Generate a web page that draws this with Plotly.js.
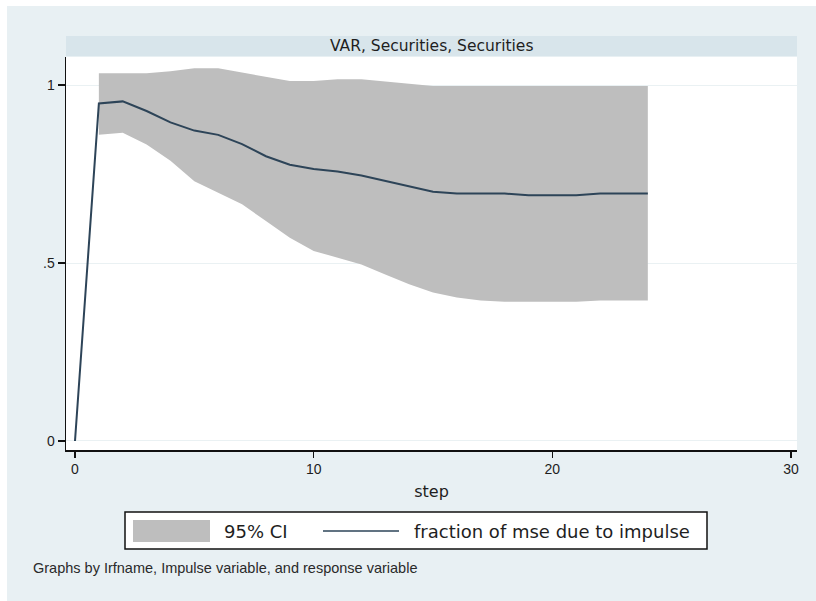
<!DOCTYPE html>
<html>
<head>
<meta charset="utf-8">
<script src="https://cdn.plot.ly/plotly-3.0.1.min.js"></script>
<style>
  html, body { margin: 0; padding: 0; background: #ffffff; }
  #chart { width: 816px; height: 601px; }
</style>
</head>
<body>
<div id="chart"></div>
<script>
// ---- data ----
const steps = [0, 1, 2, 3, 4, 5, 6, 7, 8, 9, 10, 11, 12, 13, 14, 15, 16, 17, 18, 19, 20, 21, 22, 23, 24];
const fractionMse = [0, 0.948, 0.954, 0.927, 0.895, 0.872, 0.860, 0.834, 0.800, 0.776, 0.764, 0.757, 0.746, 0.731, 0.714, 0.700, 0.695, 0.695, 0.695, 0.690, 0.690, 0.690, 0.695, 0.695, 0.695];
const ciSteps = [1, 2, 3, 4, 5, 6, 7, 8, 9, 10, 11, 12, 13, 14, 15, 16, 17, 18, 19, 20, 21, 22, 23, 24];
const ciUpper = [1.033, 1.033, 1.033, 1.039, 1.047, 1.047, 1.035, 1.021, 1.011, 1.011, 1.016, 1.016, 1.009, 1.004, 0.997, 0.997, 0.997, 0.997, 0.997, 0.997, 0.997, 0.997, 0.997, 0.997];
const ciLower = [0.860, 0.866, 0.833, 0.787, 0.730, 0.698, 0.665, 0.618, 0.571, 0.534, 0.515, 0.496, 0.468, 0.440, 0.417, 0.403, 0.395, 0.391, 0.391, 0.391, 0.391, 0.395, 0.395, 0.395];
const xTickVals = [0, 10, 20, 30];
const xTickText = ["0", "10", "20", "30"];
const yTickVals = [0, 0.5, 1];
const yTickText = ["0", ".5", "1"];
const panelTitle = "VAR, Securities, Securities";
const xTitle = "step";
const legendLabels = ["95% CI", "fraction of mse due to impulse"];
const footnote = "Graphs by Irfname, Impulse variable, and response variable";

// ---- styles ----
const ciColor = "#bebebe";
const lineColor = "#2d4458";
const bgColor = "#e8f0f3";
const stripColor = "#d8e5eb";
const txtColor = "#1e1e1e";
const baseFont = "Liberation Sans, Arial, sans-serif";
const wideFont = "DejaVu Sans, Verdana, sans-serif";

// pixel -> paper helpers (plot area: x 66..797, y 57..450)
const L = 66, R = 797, T = 57, B = 450;
const px = v => (v - L) / (R - L);
const py = v => (B - v) / (B - T);

const traces = [
  { x: ciSteps, y: ciLower, type: "scatter", mode: "lines",
    line: { color: "rgba(0,0,0,0)", width: 0 }, hoverinfo: "skip", showlegend: false },
  { x: ciSteps, y: ciUpper, type: "scatter", mode: "lines", fill: "tonexty",
    fillcolor: ciColor, line: { color: "rgba(0,0,0,0)", width: 0 },
    name: legendLabels[0], showlegend: false },
  { x: steps, y: fractionMse, type: "scatter", mode: "lines",
    line: { color: lineColor, width: 2 }, name: legendLabels[1], showlegend: false }
];

const layout = {
  width: 816, height: 601,
  margin: { l: L, r: 816 - R, t: T, b: 601 - B, pad: 0 },
  paper_bgcolor: bgColor,
  plot_bgcolor: "#ffffff",
  showlegend: false,
  font: { family: baseFont, color: txtColor },
  xaxis: {
    range: [-0.377, 30.25], tickvals: xTickVals, ticktext: xTickText,
    showgrid: false, zeroline: false, showline: true, linecolor: "#111", linewidth: 1.5,
    ticks: "outside", ticklen: 6, tickwidth: 1.2, tickcolor: "#111",
    tickfont: { family: baseFont, size: 14, color: txtColor },
    title: { text: xTitle, font: { family: wideFont, size: 16, color: txtColor }, standoff: 9 }
  },
  yaxis: {
    range: [-0.0253, 1.0787], tickvals: yTickVals, ticktext: yTickText,
    showgrid: true, gridcolor: "#eaf1f3", gridwidth: 1, zeroline: false,
    showline: true, linecolor: "#111", linewidth: 1.5,
    ticks: "outside", ticklen: 7, tickwidth: 1.2, tickcolor: "#111",
    tickfont: { family: baseFont, size: 14, color: txtColor }
  },
  shapes: [
    // white margins on top and left
    { type: "rect", xref: "paper", yref: "paper",
      x0: px(-5), x1: px(830), y0: py(6), y1: py(-5),
      fillcolor: "#ffffff", line: { width: 0 } },
    { type: "rect", xref: "paper", yref: "paper",
      x0: px(-5), x1: px(7), y0: py(610), y1: py(-5),
      fillcolor: "#ffffff", line: { width: 0 } },
    // title strip
    { type: "rect", xref: "paper", yref: "paper",
      x0: 0, x1: 1, y0: py(56), y1: py(36),
      fillcolor: stripColor, line: { width: 0 } },
    // legend box
    { type: "rect", xref: "paper", yref: "paper",
      x0: px(125), x1: px(707), y0: py(549), y1: py(512),
      fillcolor: "#ffffff", line: { color: "#111", width: 1.5 } },
    // legend CI swatch
    { type: "rect", xref: "paper", yref: "paper",
      x0: px(133), x1: px(210), y0: py(542), y1: py(520),
      fillcolor: ciColor, line: { width: 0 } },
    // legend line sample
    { type: "line", xref: "paper", yref: "paper",
      x0: px(323), x1: px(399), y0: py(531), y1: py(531),
      line: { color: lineColor, width: 1.5 } }
  ],
  annotations: [
    { text: panelTitle, xref: "paper", yref: "paper", x: 0.5, y: py(46),
      xanchor: "center", yanchor: "middle", showarrow: false,
      font: { family: wideFont, size: 15.5, color: txtColor } },
    { text: legendLabels[0], xref: "paper", yref: "paper", x: px(222), y: py(531),
      xanchor: "left", yanchor: "middle", showarrow: false,
      font: { family: wideFont, size: 18, color: txtColor } },
    { text: legendLabels[1], xref: "paper", yref: "paper", x: px(412), y: py(531),
      xanchor: "left", yanchor: "middle", showarrow: false,
      font: { family: wideFont, size: 18, color: txtColor } },
    { text: footnote, xref: "paper", yref: "paper", x: px(31), y: py(568),
      xanchor: "left", yanchor: "middle", showarrow: false,
      font: { family: baseFont, size: 14.5, color: "#2a2a2a" } }
  ]
};

Plotly.newPlot("chart", traces, layout, { displayModeBar: false, staticPlot: true });
</script>
</body>
</html>
